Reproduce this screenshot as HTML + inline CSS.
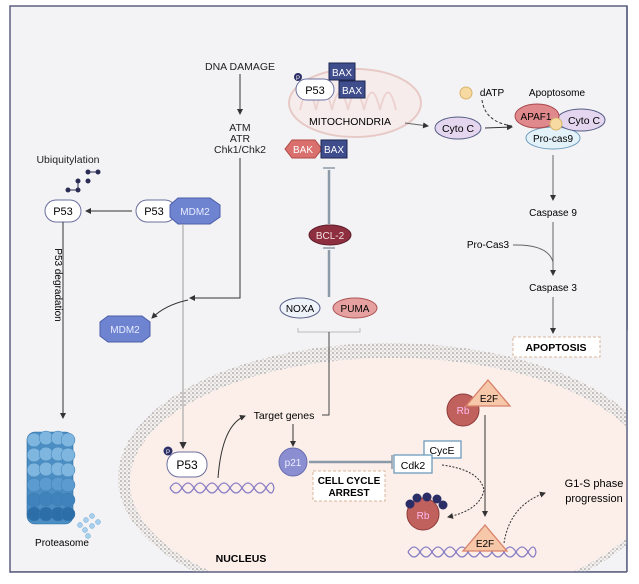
<!DOCTYPE html>
<html><head><meta charset="utf-8"><style>
html,body{margin:0;padding:0;background:#fff;}
svg{display:block;font-family:"Liberation Sans",sans-serif;}
</style></head><body>
<svg width="639" height="584" viewBox="0 0 639 584" xmlns="http://www.w3.org/2000/svg">
<defs>
<marker id="a" markerWidth="6" markerHeight="6" refX="5" refY="3" orient="auto"><path d="M0,0 L6,3 L0,6 z" fill="#333"/></marker>
<pattern id="st" width="4" height="4" patternUnits="userSpaceOnUse"><rect width="4" height="4" fill="#f4f0ee"/><circle cx="1" cy="1" r="0.8" fill="#888"/><circle cx="3" cy="3" r="0.6" fill="#aaa"/></pattern>
</defs>
<rect x="10" y="6" width="617" height="566" fill="#f3f3f5" stroke="#5d6180" stroke-width="1.5"/>
<!-- nucleus -->
<ellipse cx="390" cy="478" rx="272" ry="135" fill="url(#st)"/>
<ellipse cx="392" cy="482" rx="262" ry="124" fill="#fcefea"/>
<rect x="11" y="572" width="620" height="12" fill="#fff"/>
<rect x="627" y="330" width="12" height="254" fill="#fff"/>
<line x1="10" y1="572" x2="627" y2="572" stroke="#5d6180" stroke-width="1.5"/>
<line x1="627" y1="6" x2="627" y2="572" stroke="#5d6180" stroke-width="1.5"/>

<g font-size="10.5" fill="#222" text-anchor="middle">
<text x="240" y="70">DNA DAMAGE</text>
<line x1="240" y1="74" x2="240" y2="114" stroke="#333" marker-end="url(#a)"/>
<text x="240" y="131">ATM</text><text x="240" y="142">ATR</text><text x="240" y="153">Chk1/Chk2</text>
<polyline points="240,158 240,298 190,298" fill="none" stroke="#333" marker-end="url(#a)"/>
<text x="68" y="163">Ubiquitylation</text>
</g>
<g fill="#2b2d55"><circle cx="88" cy="172" r="2.5"/><circle cx="98" cy="172" r="2.5"/><circle cx="88" cy="181" r="2.5"/><circle cx="78" cy="181" r="2.5"/><circle cx="78" cy="190" r="2.5"/><circle cx="68" cy="190" r="2.5"/></g>
<line x1="88" y1="172" x2="98" y2="172" stroke="#2b2d55"/><line x1="78" y1="181" x2="78" y2="190" stroke="#2b2d55"/><line x1="68" y1="190" x2="78" y2="190" stroke="#2b2d55"/>

<rect x="45" y="200" width="36" height="22" rx="11" fill="#fff" stroke="#6a6f9e"/><text x="63" y="215" font-size="11" text-anchor="middle">P53</text>
<line x1="132" y1="211" x2="86" y2="211" stroke="#333" marker-end="url(#a)"/>
<rect x="136" y="200" width="40" height="22" rx="11" fill="#fff" stroke="#6a6f9e"/><text x="154" y="215" font-size="11" text-anchor="middle">P53</text>
<polygon points="178,198 210,198 220,205 220,217 210,224 178,224 170,217 170,205" fill="#6f84d0" stroke="#4c5ea8"/><text x="195" y="215" font-size="10" fill="#e8ecff" text-anchor="middle">MDM2</text>
<line x1="183" y1="224" x2="183" y2="448" stroke="#aaa" stroke-width="1.2" marker-end="url(#a)"/>
<path d="M188,300 Q165,305 152,318" fill="none" stroke="#333" marker-end="url(#a)"/>
<polygon points="108,316 142,316 150,322 150,336 142,342 108,342 100,336 100,322" fill="#6f84d0" stroke="#4c5ea8"/><text x="125" y="333" font-size="10" fill="#e8ecff" text-anchor="middle">MDM2</text>
<line x1="63" y1="222" x2="63" y2="418" stroke="#333" marker-end="url(#a)"/>
<text x="55" y="285" font-size="10" transform="rotate(90 55 285)" text-anchor="middle">P53 degradation</text>

<!-- proteasome -->
<g fill="#4a8ec4" stroke="#2d6ea3" stroke-width="0.6">
<rect x="27" y="432" width="46" height="92" rx="8"/>
</g>
<g fill="#7fb6e0" stroke="#3b7bb0" stroke-width="0.5">
<circle cx="34" cy="440" r="7"/><circle cx="46" cy="438" r="7"/><circle cx="58" cy="438" r="7"/><circle cx="68" cy="440" r="7"/>
<circle cx="34" cy="455" r="7"/><circle cx="46" cy="454" r="7"/><circle cx="58" cy="454" r="7"/><circle cx="68" cy="455" r="7"/>
<circle cx="34" cy="470" r="7"/><circle cx="46" cy="469" r="7"/><circle cx="58" cy="469" r="7"/><circle cx="68" cy="470" r="7"/>
<circle cx="34" cy="485" r="7" fill="#5c9bd0"/><circle cx="46" cy="484" r="7" fill="#5c9bd0"/><circle cx="58" cy="484" r="7" fill="#5c9bd0"/><circle cx="68" cy="485" r="7" fill="#5c9bd0"/>
<circle cx="34" cy="500" r="7" fill="#3f82bc"/><circle cx="46" cy="499" r="7" fill="#3f82bc"/><circle cx="58" cy="499" r="7" fill="#3f82bc"/><circle cx="68" cy="500" r="7" fill="#3f82bc"/>
<circle cx="34" cy="514" r="7" fill="#2c6ea8"/><circle cx="46" cy="514" r="7" fill="#2c6ea8"/><circle cx="58" cy="514" r="7" fill="#2c6ea8"/><circle cx="68" cy="514" r="7" fill="#2c6ea8"/>
</g>
<g fill="#a8d0ee" stroke="#6fa8d6" stroke-width="0.5"><circle cx="80" cy="525" r="2.5"/><circle cx="86" cy="520" r="2.5"/><circle cx="92" cy="516" r="2.5"/><circle cx="85" cy="530" r="2.5"/><circle cx="92" cy="526" r="2.5"/><circle cx="98" cy="522" r="2.5"/><circle cx="88" cy="536" r="2.5"/></g>
<text x="62" y="546" font-size="10" text-anchor="middle">Proteasome</text>

<!-- mitochondria -->
<ellipse cx="355" cy="103" rx="66" ry="34" fill="#f6ecec" stroke="#e7c9c6" stroke-width="2"/>
<path d="M300,110 q8,-35 16,0 q8,-35 16,0 q8,-35 16,0 q8,-35 16,0 q8,-35 16,0 q8,-35 16,0" fill="none" stroke="#edd3d0" stroke-width="2"/>
<rect x="329" y="63" width="26" height="17" fill="#3f4d8c" stroke="#1d2550"/><text x="342" y="76" font-size="10" fill="#fff" text-anchor="middle">BAX</text>
<rect x="339" y="81" width="26" height="17" fill="#3f4d8c" stroke="#1d2550"/><text x="352" y="94" font-size="10" fill="#fff" text-anchor="middle">BAX</text>
<rect x="296" y="79" width="38" height="21" rx="10.5" fill="#fff" stroke="#6a6f9e"/><text x="315" y="94" font-size="11" text-anchor="middle">P53</text>
<circle cx="298" cy="77" r="4" fill="#2b2d66"/><text x="298" y="80" font-size="6" fill="#fff" text-anchor="middle">P</text>
<text x="350" y="125" font-size="10.5" text-anchor="middle">MITOCHONDRIA</text>
<polygon points="285,149 292,140 315,140 322,149 315,158 292,158" fill="#d9706d" stroke="#b04a48"/><text x="303" y="153" font-size="10" fill="#fff" text-anchor="middle">BAK</text>
<rect x="321" y="140" width="26" height="18" fill="#3f4d8c" stroke="#1d2550"/><text x="334" y="153" font-size="10" fill="#fff" text-anchor="middle">BAX</text>
<g stroke="#8b9aa8" stroke-width="2.5"><line x1="329" y1="170" x2="329" y2="224"/><line x1="329" y1="250" x2="329" y2="297"/></g>
<g stroke="#8b9aa8" stroke-width="1.5"><line x1="323" y1="168" x2="335" y2="168"/><line x1="323" y1="248" x2="335" y2="248"/></g>
<ellipse cx="330" cy="235" rx="21" ry="10" fill="#8e2f40" stroke="#5d1d2a"/><text x="330" y="239" font-size="10" fill="#f5dfe3" text-anchor="middle">BCL-2</text>
<ellipse cx="300" cy="308" rx="20" ry="10" fill="#eef3fa" stroke="#555c86"/><text x="300" y="312" font-size="10" text-anchor="middle">NOXA</text>
<ellipse cx="355" cy="308" rx="22" ry="10" fill="#e7a0a0" stroke="#a55"/><text x="355" y="312" font-size="10" text-anchor="middle">PUMA</text>
<polyline points="298,328 298,332 360,332 360,328" fill="none" stroke="#bbb"/>
<polyline points="329,332 329,415 322,415" fill="none" stroke="#444"/>

<!-- apoptosis path -->
<line x1="405" y1="123" x2="428" y2="126" stroke="#666" marker-end="url(#a)"/>
<ellipse cx="458" cy="128" rx="23" ry="11" fill="#e4d6ee" stroke="#555c86"/><text x="458" y="132" font-size="10.5" text-anchor="middle">Cyto C</text>
<line x1="485" y1="128" x2="512" y2="127" stroke="#333" marker-end="url(#a)"/>
<circle cx="466" cy="93" r="6" fill="#f7d9a2" stroke="#d9b36a"/><text x="492" y="96" font-size="10" text-anchor="middle">dATP</text>
<path d="M482,100 Q485,122 512,126" fill="none" stroke="#333" stroke-dasharray="3,2"/>
<text x="557" y="96" font-size="10" text-anchor="middle">Apoptosome</text>
<ellipse cx="553" cy="138" rx="27" ry="11" fill="#e3f2f9" stroke="#6d9bbd"/><text x="553" y="142" font-size="10" text-anchor="middle">Pro-cas9</text>
<ellipse cx="581" cy="120" rx="24" ry="11" fill="#e4d6ee" stroke="#555c86"/><text x="584" y="124" font-size="10.5" text-anchor="middle">Cyto C</text>
<ellipse cx="537" cy="116" rx="22" ry="12" fill="#e0898d" stroke="#a9484e"/><text x="536" y="120" font-size="10" text-anchor="middle">APAF1</text>
<circle cx="556" cy="124" r="6" fill="#f7d9a2" stroke="#d9b36a"/>
<line x1="553" y1="155" x2="553" y2="200" stroke="#666" marker-end="url(#a)"/>
<text x="553" y="216" font-size="10" text-anchor="middle">Caspase 9</text>
<line x1="553" y1="222" x2="553" y2="275" stroke="#666" marker-end="url(#a)"/>
<text x="488" y="248" font-size="10" text-anchor="middle">Pro-Cas3</text>
<path d="M513,245 Q548,244 553,262" fill="none" stroke="#666"/>
<text x="553" y="291" font-size="10" text-anchor="middle">Caspase 3</text>
<line x1="553" y1="297" x2="553" y2="333" stroke="#666" marker-end="url(#a)"/>
<rect x="513" y="337" width="87" height="20" fill="#fff" stroke="#d9b59a" stroke-dasharray="3,2"/><text x="556" y="351" font-size="10.5" font-weight="bold" text-anchor="middle">APOPTOSIS</text>

<!-- nucleus content -->
<g fill="none" stroke="#8a7fc4" stroke-width="1.3">
<path d="M170,488 q6,-10 12,0 t12,0 t12,0 t12,0 t12,0 t12,0 t12,0 t12,0 t8,0"/>
<path d="M170,488 q6,10 12,0 t12,0 t12,0 t12,0 t12,0 t12,0 t12,0 t12,0 t8,0"/>
<path d="M408,552 q6,-10 12,0 t12,0 t12,0 t12,0 t12,0 t12,0 t12,0 t12,0 t12,0 t12,0 t8,0"/>
<path d="M408,552 q6,10 12,0 t12,0 t12,0 t12,0 t12,0 t12,0 t12,0 t12,0 t12,0 t12,0 t8,0"/>
</g>
<rect x="167" y="452" width="40" height="25" rx="12" fill="#fff" stroke="#6a6f9e"/><text x="187" y="469" font-size="12" text-anchor="middle">P53</text>
<circle cx="168" cy="451" r="4.5" fill="#2b2d66"/><text x="168" y="454" font-size="6" fill="#fff" text-anchor="middle">P</text>
<path d="M218,478 Q222,425 245,416" fill="none" stroke="#333" marker-end="url(#a)"/>
<text x="284" y="419" font-size="10.5" text-anchor="middle">Target genes</text>
<line x1="293" y1="424" x2="293" y2="446" stroke="#333" marker-end="url(#a)"/>
<circle cx="293" cy="462" r="14" fill="#8b8fd2" stroke="#6a6fb0"/><text x="293" y="466" font-size="10" fill="#eef" text-anchor="middle">p21</text>
<line x1="309" y1="462" x2="392" y2="462" stroke="#8b9aa8" stroke-width="2.5"/><line x1="392" y1="455" x2="392" y2="469" stroke="#8b9aa8" stroke-width="1.5"/>
<rect x="313" y="471" width="72" height="30" fill="#fff" stroke="#d9b59a" stroke-dasharray="3,2"/>
<text x="349" y="484" font-size="10" font-weight="bold" text-anchor="middle">CELL CYCLE</text><text x="349" y="496" font-size="10" font-weight="bold" text-anchor="middle">ARREST</text>
<rect x="424" y="441" width="37" height="17" fill="#fff" stroke="#6d9bbd" stroke-width="1.3"/><text x="442" y="454" font-size="10.5" text-anchor="middle">CycE</text>
<rect x="394" y="455" width="38" height="18" fill="#fff" stroke="#6d9bbd" stroke-width="1.3"/><text x="413" y="469" font-size="10.5" text-anchor="middle">Cdk2</text>
<path d="M442,465 Q480,470 484,490 Q480,510 448,517" fill="none" stroke="#333" stroke-dasharray="2,1.5" marker-end="url(#a)"/>
<circle cx="463" cy="410" r="16" fill="#c0615e" stroke="#8d3b3a"/><text x="463" y="414" font-size="10" fill="#fbe" text-anchor="middle">Rb</text>
<polygon points="488,380 510,406 466,406" fill="#f6c7a8" stroke="#d9826a" stroke-width="1.3"/><text x="489" y="402" font-size="10" text-anchor="middle">E2F</text>
<line x1="485" y1="415" x2="485" y2="516" stroke="#333" marker-end="url(#a)"/>
<circle cx="423" cy="514" r="16" fill="#c0615e" stroke="#8d3b3a"/><text x="423" y="519" font-size="10" fill="#fbe" text-anchor="middle">Rb</text>
<g fill="#2b2d66"><circle cx="410" cy="504" r="4.5"/><circle cx="417" cy="498" r="4.5"/><circle cx="427" cy="497" r="4.5"/><circle cx="437" cy="499" r="4.5"/><circle cx="443" cy="505" r="4.5"/></g>
<polygon points="485,525 507,551 463,551" fill="#f6c7a8" stroke="#d9826a" stroke-width="1.3"/><text x="485" y="547" font-size="10" text-anchor="middle">E2F</text>
<path d="M504,543 Q510,505 545,493" fill="none" stroke="#333" stroke-dasharray="2,1.5" marker-end="url(#a)"/>
<text x="594" y="487" font-size="11" text-anchor="middle">G1-S phase</text><text x="594" y="502" font-size="11" text-anchor="middle">progression</text>
<text x="241" y="562" font-size="10.5" font-weight="bold" text-anchor="middle">NUCLEUS</text>
</svg>
</body></html>
